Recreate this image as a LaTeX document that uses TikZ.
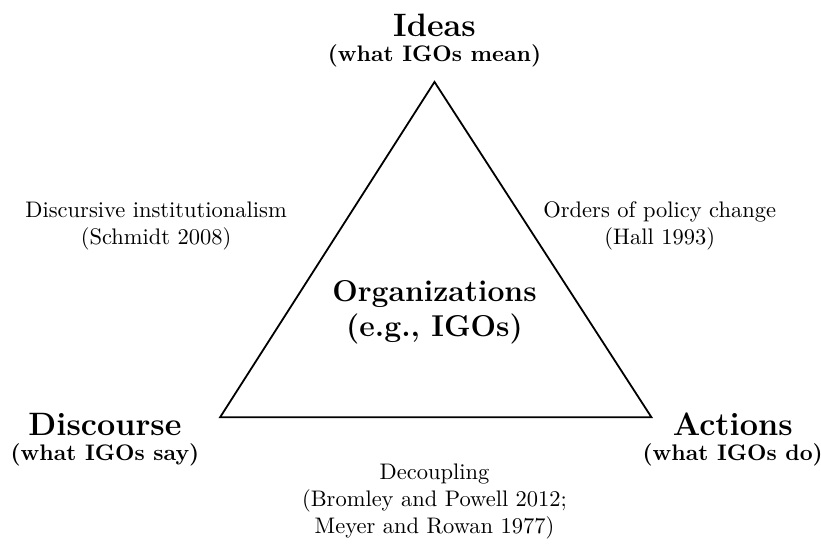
\documentclass[tikz,border=0pt]{standalone}
\usepackage{amsmath}
\usepackage{tikz}

\begin{document}
\begin{tikzpicture}
  \tikzstyle{corner} = [align=center, font=\bfseries]
  \tikzstyle{source} = [align=center]
  \tikzstyle{edge} = [-, thick]

  \useasboundingbox (0,0) rectangle (12.83,-8.53);

  \coordinate (top) at (6.79,-1.28);
  \coordinate (left) at (3.44,-6.52);
  \coordinate (right) at (10.18,-6.52);

  \draw[edge] (top) -- (left) -- (right) -- cycle;

  \node[corner] (ideas) at (6.79,-0.63) {{\Large Ideas}\\[-1pt](what IGOs mean)};
  \node[corner] (discourse) at (1.64,-6.87) {{\Large Discourse}\\[-1pt](what IGOs say)};
  \node[corner] (actions) at (11.45,-6.87) {{\Large Actions}\\[-1pt](what IGOs do)};
  \node[corner, font=\bfseries\fontsize{13.4}{15.5}\selectfont] (orgs) at (6.79,-4.88) {Organizations\\(e.g., IGOs)};

  \node[source] (schmidt) at (2.44,-3.53) {Discursive institutionalism\\(Schmidt 2008)};
  \node[source] (hall) at (10.31,-3.53) {Orders of policy change\\(Hall 1993)};
  \node[source] (decoupling) at (6.79,-7.84) {Decoupling\\(Bromley and Powell 2012;\\Meyer and Rowan 1977)};
\end{tikzpicture}
\end{document}
